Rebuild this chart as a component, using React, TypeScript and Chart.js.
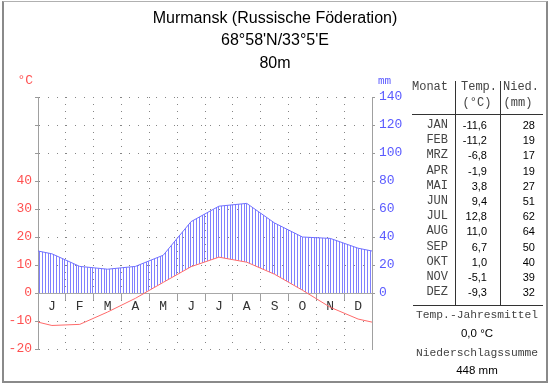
import React, { useEffect, useRef } from "react";
import { Chart, registerables } from "chart.js";

Chart.register(...registerables);

// ---- data ----
const monthLetters = ["J", "F", "M", "A", "M", "J", "J", "A", "S", "O", "N", "D"];
const monthNames = ["JAN", "FEB", "MRZ", "APR", "MAI", "JUN", "JUL", "AUG", "SEP", "OKT", "NOV", "DEZ"];
const temperature = [-11.6, -11.2, -6.8, -1.9, 3.8, 9.4, 12.8, 11.0, 6.7, 1.0, -5.1, -9.3];
const precipitation = [28, 19, 17, 19, 27, 51, 62, 64, 50, 40, 39, 32];
// values read at the left / right edge of the diagram (year wrap)
const edgeTemperature = -10.4;
const edgePrecipitation = 30;
const tempTickLabels = [-20, -10, 0, 10, 20, 30, 40];
const precipTickLabels = [0, 20, 40, 60, 80, 100, 120, 140];
const titleLines = ["Murmansk (Russische Föderation)", "68°58'N/33°5'E", "80m"];
const annualMeanText = "0,0 °C";
const annualSumText = "448 mm";

const MONO = '"Courier New", "Liberation Mono", monospace';
const SANS = '"Liberation Sans", Arial, sans-serif';
const RED = "#ff5050";
const BLUE = "#5a5aff";
const GRID = "#858585";

type TxtProps = {
  x: number;
  y: number;
  align?: "left" | "right" | "center";
  font?: string;
  size?: number;
  color?: string;
  children: React.ReactNode;
};

function Txt({ x, y, align = "left", font = SANS, size = 11, color = "#000", children }: TxtProps) {
  const lh = Math.round(size * 1.3);
  const style: React.CSSProperties = {
    position: "absolute",
    top: y - lh / 2,
    lineHeight: lh + "px",
    fontFamily: font,
    fontSize: size,
    color,
    whiteSpace: "nowrap",
  };
  if (align === "left") style.left = x;
  else if (align === "right") style.right = 550 - x;
  else {
    style.left = x - 150;
    style.width = 300;
    style.textAlign = "center";
  }
  return <div style={style}>{children}</div>;
}

function Line({ x1, y1, x2, y2, color = "#444" }: { x1: number; y1: number; x2: number; y2: number; color?: string }) {
  return (
    <div
      style={{
        position: "absolute",
        left: x1,
        top: y1,
        width: Math.max(1, x2 - x1),
        height: Math.max(1, y2 - y1),
        background: color,
      }}
    />
  );
}

export default function App() {
  const canvasRef = useRef<HTMLCanvasElement | null>(null);

  useEffect(() => {
    document.body.style.margin = "0";
    const canvas = canvasRef.current;
    if (!canvas) return;
    const ctx = canvas.getContext("2d");
    if (!ctx) return;

    // vertical hatching, 10 lines per 28px month
    const pc = document.createElement("canvas");
    pc.width = 14;
    pc.height = 1;
    const pctx = pc.getContext("2d")!;
    pctx.fillStyle = "rgb(128,128,255)";
    [0, 3, 6, 8, 11].forEach((px) => pctx.fillRect(px, 0, 1, 1));
    const hatch = ctx.createPattern(pc, "repeat")!;

    const tempData = [
      { x: 0, y: edgeTemperature },
      ...temperature.map((v, i) => ({ x: i + 0.5, y: v })),
      { x: 12, y: edgeTemperature },
    ];
    const precData = [
      { x: 0, y: edgePrecipitation },
      ...precipitation.map((v, i) => ({ x: i + 0.5, y: v })),
      { x: 12, y: edgePrecipitation },
    ];

    const clipPlugin = {
      id: "clipAboveZero",
      beforeDatasetsDraw(chart: any) {
        const { ctx: c, chartArea } = chart;
        const y0 = chart.scales.y.getPixelForValue(0);
        c.save();
        c.beginPath();
        c.rect(chartArea.left, chartArea.top, chartArea.right - chartArea.left, y0 - chartArea.top);
        c.clip();
      },
      afterDatasetDraw(chart: any, args: any) {
        if (args.index === 1) chart.ctx.restore();
      },
    };

    const chart = new Chart(ctx, {
      type: "line",
      data: {
        datasets: [
          {
            label: "Temperatur",
            data: tempData,
            yAxisID: "y",
            borderColor: "#ff6a6a",
            borderWidth: 1,
            pointRadius: 0,
            fill: false,
            tension: 0,
          },
          {
            label: "Niederschlag",
            data: precData,
            yAxisID: "y2",
            borderColor: "#7070ff",
            borderWidth: 1,
            pointRadius: 0,
            tension: 0,
            fill: { target: 0, above: hatch, below: "rgba(0,0,0,0)" },
          },
        ],
      },
      options: {
        animation: false,
        responsive: false,
        events: [],
        layout: { padding: { left: 0, top: 97, right: 138, bottom: 35 } },
        plugins: {
          legend: { display: false },
          tooltip: { enabled: false },
          title: { display: false },
          filler: { drawTime: "beforeDatasetDraw" },
        },
        scales: {
          x: {
            type: "linear",
            min: 0,
            max: 12,
            position: { y: 0 } as any,
            afterBuildTicks: (s: any) => {
              s.ticks = monthLetters.map((_, i) => ({ value: i + 0.5 }));
            },
            ticks: {
              autoSkip: false,
              maxRotation: 0,
              padding: 0,
              color: "#333",
              font: { family: MONO, size: 13 },
              callback: (_v: any, i: number) => monthLetters[i],
            },
            grid: {
              offset: true,
              color: GRID,
              lineWidth: 1,
              drawTicks: true,
              tickLength: 6,
              tickColor: "#a0a0a0",
              tickBorderDash: [],
            },
            border: { display: true, color: "#a8a8a8", width: 1, dash: [1, 6] },
          },
          y: {
            type: "linear",
            position: "left",
            min: -20,
            max: 70,
            afterFit: (s: any) => {
              s.width = 38;
            },
            afterBuildTicks: (s: any) => {
              const arr: any[] = [];
              for (let v = -20; v <= 70; v += 10) arr.push({ value: v });
              s.ticks = arr;
            },
            ticks: {
              padding: 3,
              color: RED,
              font: { family: MONO, size: 13 },
              callback: (v: any) => (tempTickLabels.includes(v) ? String(v) : ""),
            },
            grid: {
              color: GRID,
              lineWidth: 1,
              drawTicks: true,
              tickLength: 3,
              tickColor: "#999",
              tickBorderDash: [],
            },
            border: { display: true, color: "#a0a0a0", width: 1, dash: [1, 8] },
          },
          y2: {
            type: "linear",
            position: "right",
            min: -40,
            max: 140,
            afterFit: (s: any) => {
              s.width = 40;
            },
            afterBuildTicks: (s: any) => {
              s.ticks = precipTickLabels.map((v) => ({ value: v }));
            },
            ticks: {
              padding: 4,
              color: BLUE,
              font: { family: MONO, size: 13 },
              callback: (v: any) => String(v),
            },
            grid: {
              display: true,
              drawOnChartArea: false,
              drawTicks: true,
              tickLength: 3,
              color: "#999",
              tickColor: "#999",
            },
            border: { display: true, color: "#a0a0a0", width: 1 },
          },
        },
      },
      plugins: [clipPlugin],
    } as any);

    return () => chart.destroy();
  }, []);

  const rowY = (i: number) => 125 + i * 15.2;

  return (
    <div style={{ position: "absolute", left: 0, top: 0, width: 550, height: 384, background: "#fff", overflow: "hidden" }}>
      <canvas ref={canvasRef} width={550} height={384} style={{ position: "absolute", left: 0, top: 0, display: "block" }} />
      {/* frame */}
      <div
        style={{
          position: "absolute",
          left: 2,
          top: 1,
          width: 542,
          height: 379,
          borderLeft: "2px solid #8a8a8a",
          borderTop: "1px solid #b0b0b0",
          borderRight: "2px solid #8a8a8a",
          borderBottom: "2px solid #8a8a8a",
          pointerEvents: "none",
        }}
      />
      {/* title */}
      {titleLines.map((t, i) => (
        <Txt key={i} x={275} y={17 + i * 22.5} align="center" size={16}>
          {t}
        </Txt>
      ))}
      {/* axis units */}
      <Txt x={33} y={80} align="right" font={MONO} size={13} color={RED}>
        °C
      </Txt>
      <Txt x={378} y={81} align="left" font={MONO} size={11} color={BLUE}>
        mm
      </Txt>

      {/* table */}
      <Txt x={412} y={87} font={MONO} size={12} color="#444">Monat</Txt>
      <Txt x={461} y={87} font={MONO} size={12} color="#444">Temp.</Txt>
      <Txt x={477} y={103} align="center" font={MONO} size={12} color="#444">(°C)</Txt>
      <Txt x={503} y={87} font={MONO} size={12} color="#444">Nied.</Txt>
      <Txt x={518} y={103} align="center" font={MONO} size={12} color="#444">(mm)</Txt>
      <Line x1={412} y1={114} x2={543} y2={115} color="#333" />
      <Line x1={455} y1={81} x2={456} y2={305} color="#333" />
      <Line x1={500} y1={81} x2={501} y2={305} color="#333" />
      <Line x1={413} y1={305} x2={543} y2={306} color="#333" />
      {monthNames.map((m, i) => (
        <React.Fragment key={m}>
          <Txt x={448} y={rowY(i)} align="right" font={MONO} size={12} color="#444">
            {m}
          </Txt>
          <Txt x={487} y={rowY(i)} align="right" size={11}>
            {temperature[i].toFixed(1).replace(".", ",")}
          </Txt>
          <Txt x={535} y={rowY(i)} align="right" size={11}>
            {String(precipitation[i])}
          </Txt>
        </React.Fragment>
      ))}
      <Txt x={477} y={315} align="center" font={MONO} size={11.3} color="#444">Temp.-Jahresmittel</Txt>
      <Txt x={477} y={333} align="center" size={11.5}>{annualMeanText}</Txt>
      <Txt x={477} y={353} align="center" font={MONO} size={11.3} color="#444">Niederschlagssumme</Txt>
      <Txt x={477} y={370} align="center" size={11.5}>{annualSumText}</Txt>
    </div>
  );
}
